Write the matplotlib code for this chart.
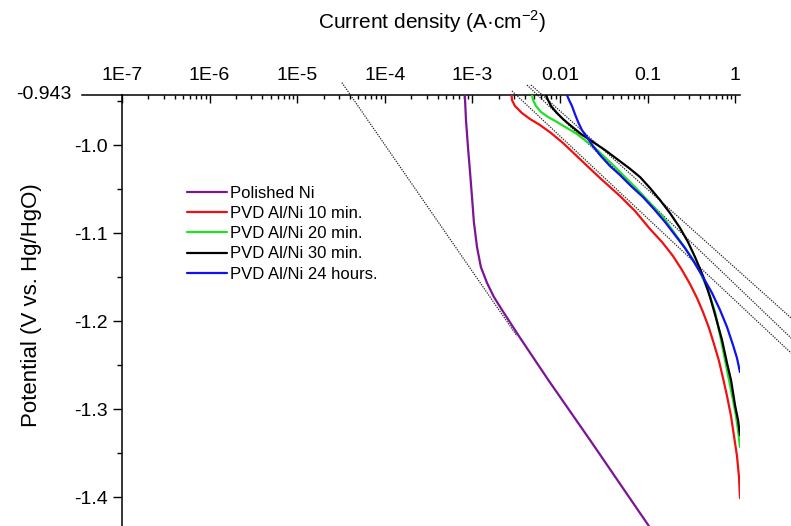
import matplotlib
matplotlib.use("Agg")
import matplotlib.pyplot as plt
import numpy as np
from matplotlib.ticker import (FixedLocator, FixedFormatter, LogLocator,
                               NullFormatter, MultipleLocator)

plt.rcParams["font.family"] = ["Liberation Sans", "DejaVu Sans"]
plt.rcParams["mathtext.fontset"] = "custom"
plt.rcParams["mathtext.rm"] = "Liberation Sans"
plt.rcParams["axes.unicode_minus"] = False

# ---- polarisation curves: current density (A/cm2) vs potential (V vs Hg/HgO)
ni_i = [8.2e-4, 8.45e-4, 8.9e-4, 9.4e-4, 9.9e-4, 1.04e-3, 1.13e-3, 1.25e-3,
        1.47e-3, 1.76e-3, 2.18e-3, 2.72e-3, 3.45e-3, 7.49e-3, 2.2e-2, 0.101,
        0.158]
ni_v = [-0.943, -0.9714, -1.002, -1.0305, -1.059, -1.0873, -1.116, -1.1385,
        -1.1566, -1.1725, -1.1873, -1.2021, -1.2180, -1.2680, -1.3350,
        -1.4313, -1.4590]

pvd10_i = [2.80e-3, 2.83e-3, 3.06e-3, 3.68e-3, 4.55e-3, 5.91e-3, 7.90e-3,
           1.082e-2, 1.83e-2, 2.86e-2, 4.84e-2, 7.18e-2, 0.1065, 0.1460,
           0.1950, 0.2470, 0.3048, 0.3664, 0.4288, 0.5023, 0.5728, 0.6532,
           0.7257, 0.8062, 0.8956, 0.9689, 1.048, 1.105, 1.134]
pvd10_v = [-0.943, -0.9487, -0.9555, -0.9635, -0.9703, -0.9771, -0.9862,
           -0.9975, -1.0191, -1.0373, -1.0578, -1.0748, -1.0953, -1.1100,
           -1.1260, -1.1419, -1.1578, -1.1737, -1.1896, -1.2078, -1.2260,
           -1.2453, -1.2646, -1.2850, -1.3078, -1.3305, -1.3532, -1.3771,
           -1.4010]

pvd20_i = [4.79e-3, 4.92e-3, 5.32e-3, 6.07e-3, 7.30e-3, 9.24e-3, 1.20e-2,
           1.563e-2, 2.51e-2, 4.25e-2, 7.57e-2, 0.1065, 0.150, 0.195, 0.2535,
           0.321, 0.3965, 0.489, 0.588, 0.671, 0.765, 0.850, 0.944, 1.021,
           1.077, 1.134]
pvd20_v = [-0.943, -0.9487, -0.9555, -0.9623, -0.9680, -0.9737, -0.9805,
           -0.9873, -1.0032, -1.0248, -1.0498, -1.0657, -1.0816, -1.0975,
           -1.1135, -1.1282, -1.1441, -1.1646, -1.1896, -1.2157, -1.2441,
           -1.2669, -1.2896, -1.3078, -1.3237, -1.3430]

pvd30_i = [6.92e-3, 7.30e-3, 7.90e-3, 9.24e-3, 1.082e-2, 1.30e-2, 1.737e-2,
           2.38e-2, 3.26e-2, 4.47e-2, 6.14e-2, 8.19e-2, 0.1065, 0.1385, 0.180,
           0.2344, 0.289, 0.3477, 0.429, 0.516, 0.604, 0.707, 0.806, 0.896,
           0.995, 1.077, 1.134]
pvd30_v = [-0.943, -0.9487, -0.9555, -0.9635, -0.9703, -0.9771, -0.9873,
           -0.9964, -1.0055, -1.0157, -1.0260, -1.0362, -1.0487, -1.0623,
           -1.0771, -1.0941, -1.1100, -1.1271, -1.1487, -1.1725, -1.1964,
           -1.2214, -1.2475, -1.2669, -1.2953, -1.3123, -1.3294]

pvd24h_i = [1.20e-2, 1.27e-2, 1.37e-2, 1.48e-2, 1.61e-2, 1.78e-2, 2.03e-2,
            2.38e-2, 2.86e-2, 3.72e-2, 4.84e-2, 6.46e-2, 8.86e-2, 0.118,
            0.158, 0.2055, 0.267, 0.339, 0.429, 0.544, 0.671, 0.806, 0.944,
            1.048, 1.134]
pvd24h_v = [-0.943, -0.9487, -0.9555, -0.9646, -0.9737, -0.9828, -0.9907,
            -1.0010, -1.0112, -1.0237, -1.0339, -1.0464, -1.0589, -1.0725,
            -1.0873, -1.1021, -1.1169, -1.1328, -1.1498, -1.1680, -1.1873,
            -1.2066, -1.2271, -1.2419, -1.2578]

# ---- Tafel extrapolation lines (start / end points)
tafel_i = [(3.24e-5, 3.23e-3), (2.83e-3, 5.5), (4.20e-3, 5.5), (4.67e-3, 5.5)]
tafel_v = [(-0.929, -1.2169), (-0.9385, -1.2457), (-0.9316, -1.2289),
           (-0.9316, -1.2055)]

labels = ["Polished Ni", "PVD Al/Ni 10 min.", "PVD Al/Ni 20 min.",
          "PVD Al/Ni 30 min.", "PVD Al/Ni 24 hours."]
colors = ["#7b1496", "#f01010", "#20e020", "#000000", "#1010f0"]

x_ticks = [1e-7, 1e-6, 1e-5, 1e-4, 1e-3, 1e-2, 1e-1, 1]
x_tick_labels = ["1E-7", "1E-6", "1E-5", "1E-4", "1E-3", "0.01", "0.1", "1"]
y_ticks = [-1.0, -1.1, -1.2, -1.3, -1.4]
y_tick_labels = ["-1.0", "-1.1", "-1.2", "-1.3", "-1.4"]
y_top = -0.943

fig = plt.figure(figsize=(7.91, 5.26), dpi=100)
ax = fig.add_axes([0.1542, -0.0623, 0.7813, 0.8817])
ax.set_xscale("log")
ax.set_xlim(1e-7, 1.134)
ax.set_ylim(-1.47, y_top)

series = [(ni_i, ni_v), (pvd10_i, pvd10_v), (pvd20_i, pvd20_v),
          (pvd30_i, pvd30_v), (pvd24h_i, pvd24h_v)]
for (ci, cv), lab, col in zip(series, labels, colors):
    ax.plot(ci, cv, color=col, lw=1.6, label=lab, zorder=3,
            solid_capstyle="round", solid_joinstyle="round")

for ti, tv in zip(tafel_i, tafel_v):
    ax.plot(ti, tv, color="#222222", lw=0.9, ls=(0, (1.0, 1.0)),
            clip_on=False, zorder=2)

# axes frame
for side in ("right", "bottom"):
    ax.spines[side].set_visible(False)
for side in ("top", "left"):
    ax.spines[side].set_linewidth(1.1)

ax.xaxis.set_ticks_position("top")
ax.xaxis.set_major_locator(FixedLocator(x_ticks))
ax.xaxis.set_major_formatter(FixedFormatter(x_tick_labels))
ax.xaxis.set_minor_locator(LogLocator(base=10, subs=np.arange(2, 10),
                                      numticks=30))
ax.xaxis.set_minor_formatter(NullFormatter())
ax.tick_params(axis="x", which="major", direction="in", length=6, width=1,
               labelsize=14, pad=8, top=True, bottom=False)
ax.tick_params(axis="x", which="minor", direction="in", length=3, width=1,
               top=True, bottom=False)

ax.yaxis.set_major_locator(FixedLocator(y_ticks))
ax.yaxis.set_major_formatter(FixedFormatter(y_tick_labels))
ax.yaxis.set_minor_locator(MultipleLocator(0.05))
ax.tick_params(axis="y", which="major", direction="out", length=6.5, width=1,
               labelsize=14, pad=4)
ax.tick_params(axis="y", which="minor", direction="out", length=3.5, width=1)

# long tick and label marking the upper potential limit
ax.plot([-0.0647, 0], [1, 1], transform=ax.transAxes, color="black",
        lw=1.1, clip_on=False)
ax.annotate(f"{y_top:.3f}", xy=(0, y_top), xycoords=("axes fraction", "data"),
            xytext=(-36, 0), textcoords="offset points", ha="right",
            va="center", fontsize=14)

fig.text(432 / 791, 1 - 22 / 526, "Current density (A\u00b7cm$^{\\mathregular{-2}}$)",
         ha="center", va="center", fontsize=15)
fig.text(32 / 791, 1 - 305 / 526, "Potential (V vs. Hg/HgO)", rotation=90,
         ha="center", va="center", fontsize=16)

ax.legend(loc="upper left", bbox_to_anchor=(187 / 791, 1 - 186 / 526),
          bbox_transform=fig.transFigure, frameon=False, fontsize=12,
          handlelength=2.4, handletextpad=0.18, labelspacing=0.31,
          borderpad=0, borderaxespad=0)

fig.savefig("out.png", dpi=100)
